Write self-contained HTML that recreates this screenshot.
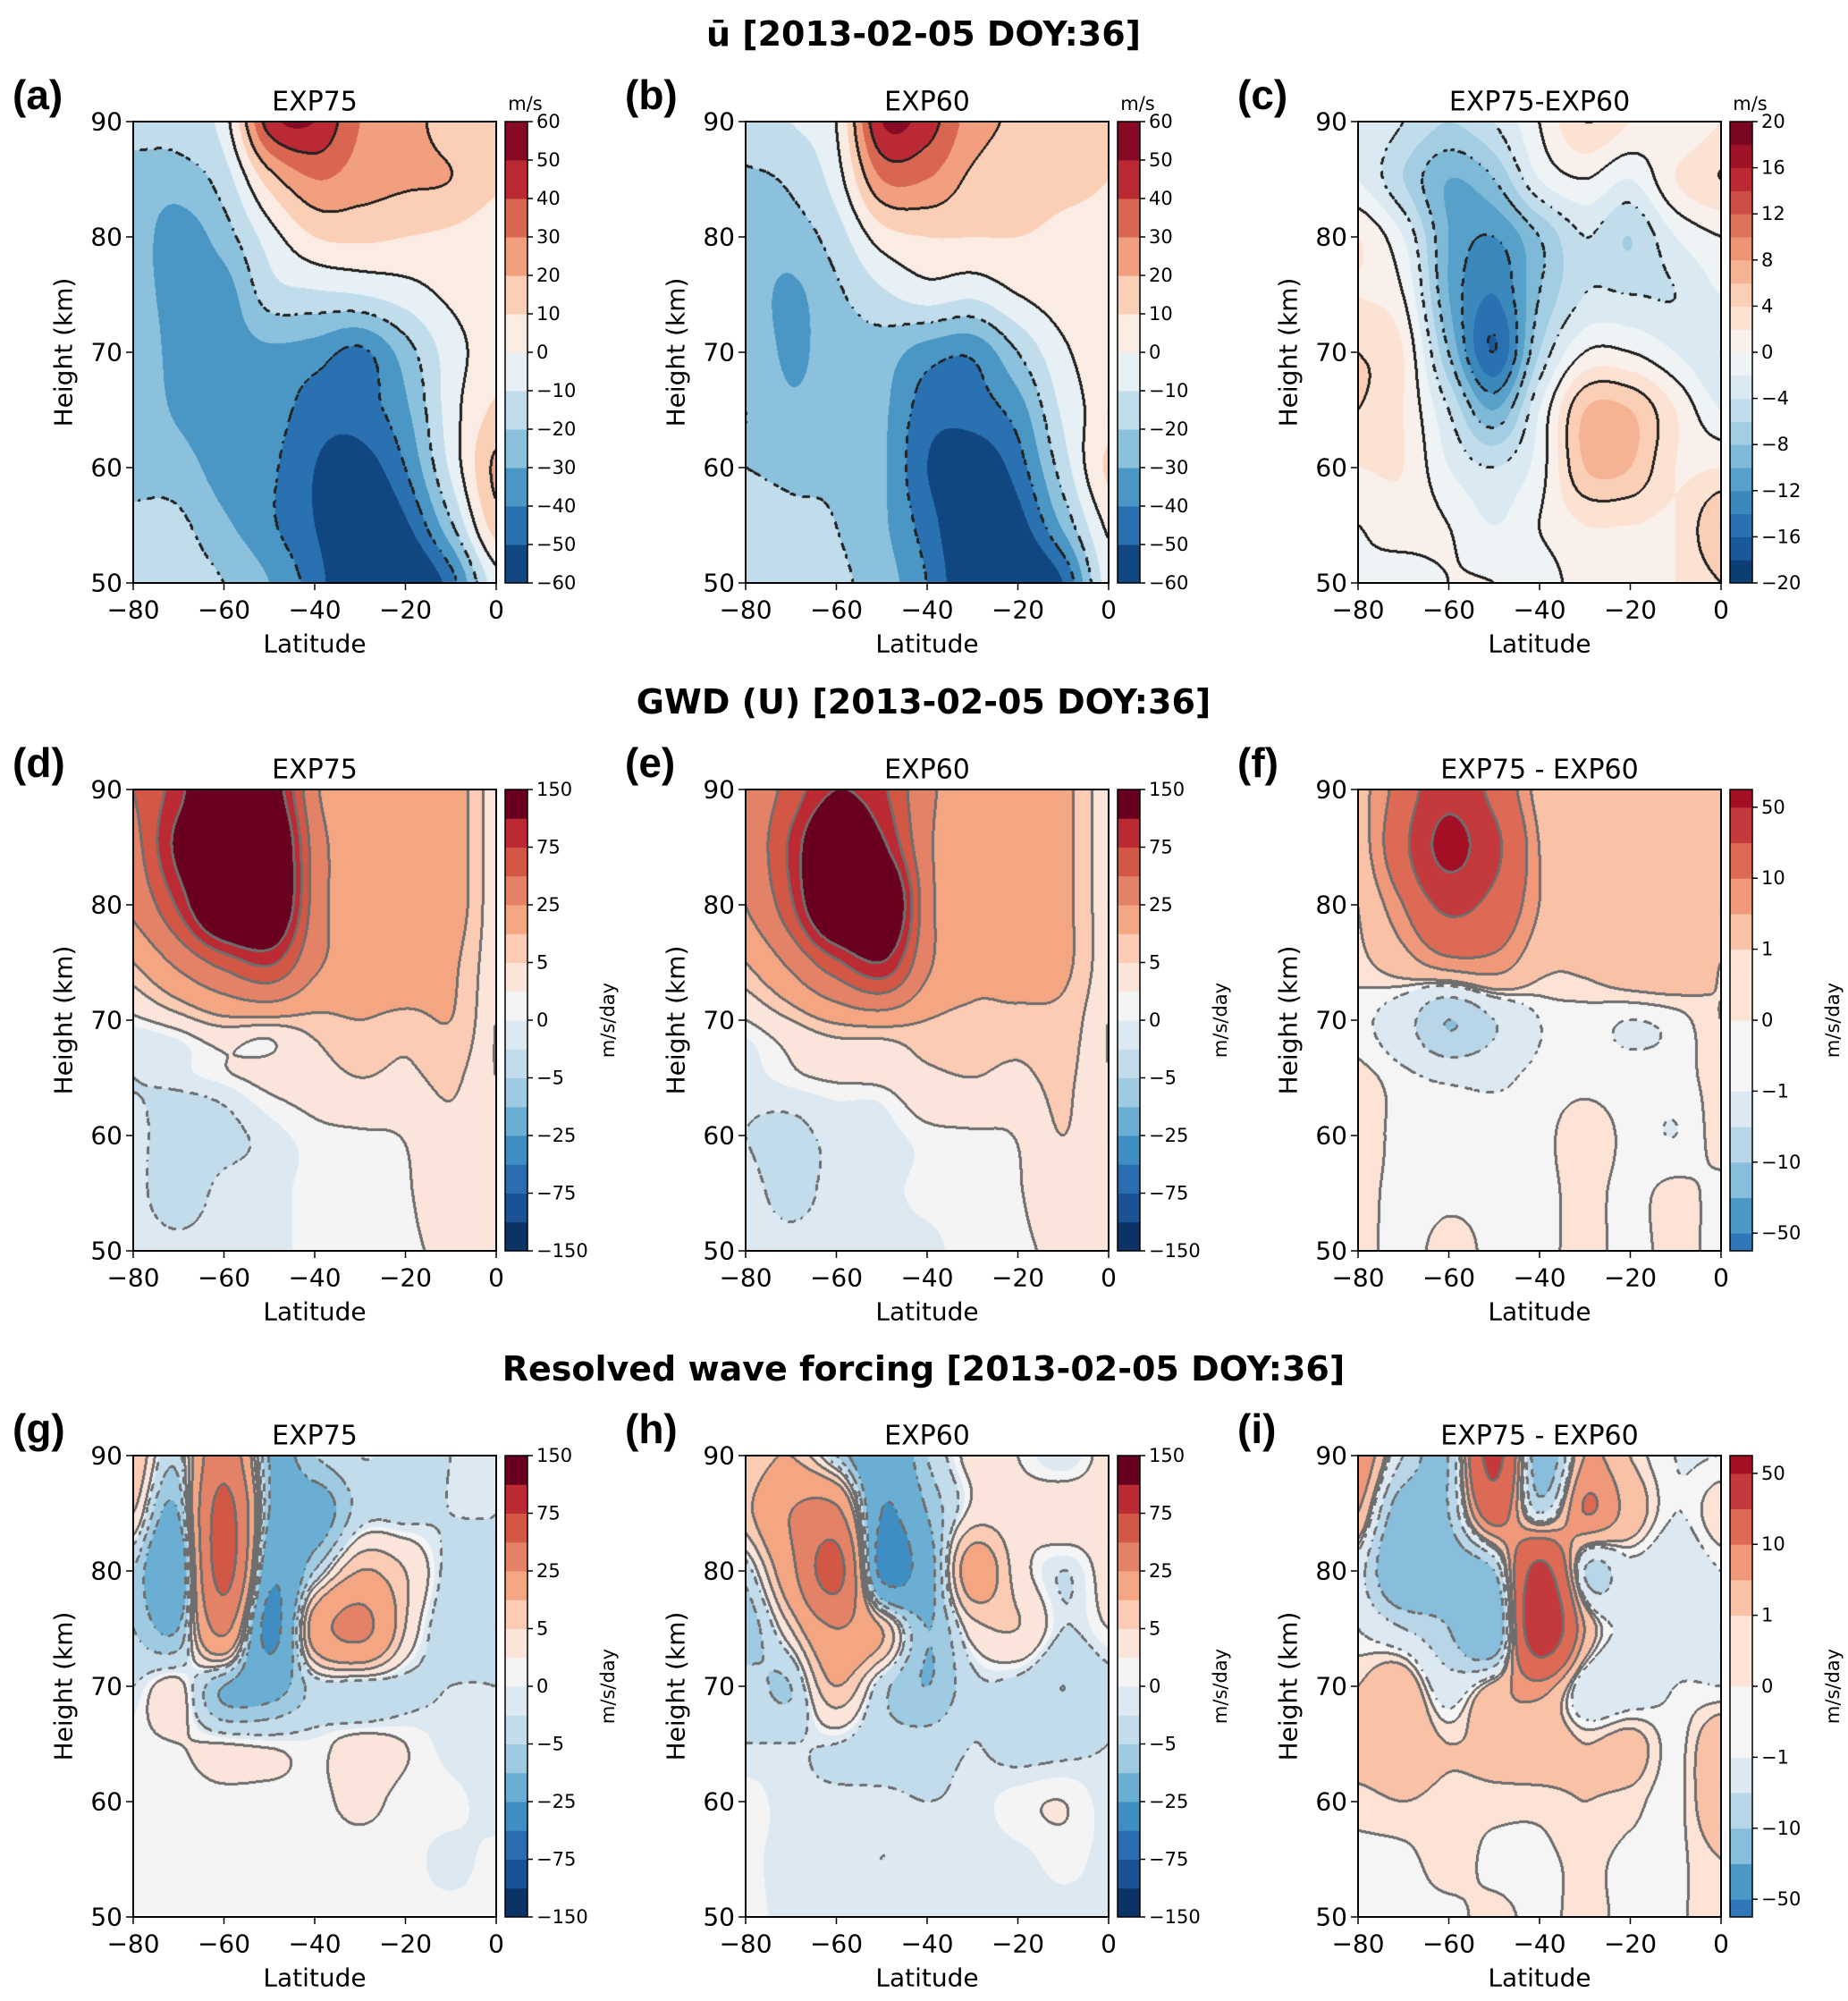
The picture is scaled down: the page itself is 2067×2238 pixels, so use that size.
<!DOCTYPE html>
<html><head><meta charset="utf-8">
<style>
html,body{margin:0;padding:0;background:#fff;}
#root{position:relative;width:2067px;height:2238px;overflow:hidden;background:#fff;}
canvas{position:absolute;}
svg{position:absolute;left:0;top:0;}
</style></head>
<body>
<div id="root">
<svg id="ov" width="2067" height="2238"></svg>
</div>
<script>
// ===== data =====
const latitudes=[-80,-70,-60,-50,-40,-30,-20,-10,0];
const heights=[90,85,80,75,70,65,60,55,50];
// rows top (90 km) to bottom (50 km), columns -80..0
const uA=[
[-15,-15,-5,45,50,30,25,15,15],
[-25,-25,-15,15,30,25,22,20,12],
[-25,-35,-25,-5,10,12,10,8,5],
[-25,-35,-35,-15,-12,-10,-5,2,5],
[-20,-35,-35,-32,-35,-42,-25,-5,5],
[-22,-32,-38,-35,-45,-45,-32,-5,12],
[-22,-25,-35,-38,-50,-55,-40,-8,22],
[-18,-18,-28,-38,-50,-62,-52,-22,15],
[-12,-15,-20,-30,-45,-65,-65,-45,-5]];
const uB=[
[-12,-10,0,50,45,25,18,12,10],
[-22,-18,-5,30,30,18,15,12,10],
[-25,-25,-15,5,10,10,10,8,8],
[-25,-32,-22,-12,-5,-8,0,5,5],
[-22,-32,-25,-25,-35,-38,-20,-2,5],
[-20,-28,-25,-28,-45,-45,-35,-8,5],
[-20,-22,-22,-28,-50,-58,-45,-15,12],
[-15,-18,-20,-28,-45,-62,-55,-28,2],
[-12,-15,-18,-25,-40,-62,-65,-50,-5]];
const uDiff=[
[-2,-4,-6,-4,0,4,2,0,2],
[-2,-6,-10,-8,-2,0,-2,2,4],
[2,-2,-10,-12,-8,-4,-6,-2,0],
[2,0,-10,-14,-8,-4,-4,-4,-2],
[4,2,-8,-16,-6,0,0,-2,-4],
[4,2,-4,-10,-2,6,6,2,-2],
[2,2,-2,-4,-1,6,6,2,2],
[0,1,0,-2,0,2,2,2,6],
[0,-1,0,0,-1,1,1,2,4]];
const gwdA=[
[50,90,160,130,30,20,20,15,2],
[40,110,170,170,40,20,20,15,2],
[30,80,170,170,40,20,20,15,2],
[10,30,60,80,30,20,20,12,2],
[0.5,3,8,8,8,10,8,10,1],
[-1,-0.5,0.5,2,3,5,4,6,1],
[-0.5,-2,-1.5,-0.5,0.5,0.7,1.2,4,2],
[-0.5,-2,-0.5,-0.3,0.3,0.5,0.7,3,2],
[-0.3,-0.5,-0.3,-0.3,0.3,0.5,0.6,1.5,1]];
const gwdB=[
[30,60,100,80,30,20,15,12,2],
[30,80,160,110,30,20,15,12,2],
[25,70,170,170,35,20,15,12,2],
[10,30,70,100,30,15,15,12,2],
[1,5,12,15,10,8,8,8,1],
[-0.5,0.5,1.5,2,4,5,4,6,1],
[-1,-1.5,-0.5,-0.5,0.5,0.7,1.2,5,1],
[-0.5,-1.5,-0.5,-0.3,0.3,0.5,0.8,3,1],
[-0.3,-0.5,-0.3,-0.3,-0.3,0.5,0.6,1.5,1]];
const gwdDiff=[
[3,15,40,20,3,3,2,3,1],
[2,20,60,30,5,3,3,3,2],
[1,10,30,20,5,2,3,2,2],
[0.5,3,8,8,2,1.5,3,3,1],
[-0.5,-3,-10,-5,-1,-0.5,-1,-0.5,1],
[0.3,-0.5,-1.5,-1.5,-0.5,-0.3,-0.5,-0.5,0.5],
[0.5,-0.3,-0.3,-0.3,-0.3,0.5,-0.3,-1,0.5],
[0.3,-0.3,-0.2,-0.2,-0.3,0.3,-0.3,0.3,-0.3],
[0.3,-0.3,0.3,-0.2,-0.3,0.3,-0.3,0.3,-0.3]];
const rwA=[
[10,-3,40,-10,-5,-1,-2,-1,-1],
[5,-10,60,-10,-15,-3,-2,-1,-1],
[-5,-20,60,-20,-5,10,5,-2,-1],
[-5,-10,30,-30,15,30,5,-3,-1],
[-1,2,-10,-15,-3,-3,-2,-1,-1],
[0.5,1,1,0.5,0.3,2,1,-0.5,-0.5],
[0.5,0.3,0.5,0.3,0.5,1.5,0.5,0.3,-0.5],
[0.3,0.3,0.3,0.5,0.3,0.3,0.3,-0.3,0.3],
[0.3,0.3,0.3,0.3,0.3,0.3,0.3,0.3,0.3]];
const rwB=[
[5,10,-5,-20,-5,2,1,-1,2],
[8,25,30,-25,-10,2,2,3,2],
[-3,20,60,-30,-15,15,3,-1,2],
[-8,5,25,10,-10,3,5,-1,1],
[-3,-5,10,-3,-10,-2,-2,-5,-2],
[-1,-1,-1,-3,-3,-1,-2,-2,-1],
[0.5,-0.5,-0.5,-0.5,-1,-0.5,0.5,1,-0.5],
[0.3,-0.5,-0.3,-1,-0.5,-0.5,-0.3,0.3,-0.3],
[0.3,-0.3,-0.3,-0.3,-0.3,-0.3,-0.3,-0.3,-0.3]];
const rwDiff=[
[10,-5,-10,30,-15,5,1,-1,-1],
[5,-15,-10,15,-5,10,3,-1,1],
[-3,-20,-15,-10,30,-5,-2,-3,-1],
[-1,-5,-10,-20,40,5,-2,-3,-2],
[1,3,-3,2,8,-3,-3,-1,-1],
[2,3,1,2,3,1,2,-0.5,3],
[0.5,1,0.5,0.5,0.5,1,0.5,-0.5,3],
[-0.3,-0.3,0.5,-0.3,-0.3,0.3,-0.3,-0.3,1],
[-0.3,-0.3,-0.3,0.3,-0.3,0.3,-0.3,-0.3,1]];

const uLevels=[-60,-50,-40,-30,-20,-10,0,10,20,30,40,50,60];
const uTicks=[-60,-50,-40,-30,-20,-10,0,10,20,30,40,50,60];
const dLevels=[-20,-18,-16,-14,-12,-10,-8,-6,-4,-2,0,2,4,6,8,10,12,14,16,18,20];
const dTicks=[-20,-16,-12,-8,-4,0,4,8,12,16,20];
const gLevels=[-150,-100,-75,-50,-25,-10,-5,-1,0,1,5,10,25,50,75,100,150];
const gTicks=[-150,-75,-25,-5,0,5,25,75,150];
const fLevels=[-1e9,-50,-25,-10,-5,-1,0,1,5,10,25,50,1e9];
const fTicks=[-50,-10,-1,0,1,10,50];
const xTicks=[-80,-60,-40,-20,0];
const yTicks=[50,60,70,80,90];

// ===== colormap =====
const anchors=['#053061','#2166ac','#4393c3','#92c5de','#d1e5f0','#f7f7f7','#fddbc7','#f4a582','#d6604d','#b2182b','#67001f'];
function hex(h){return [parseInt(h.slice(1,3),16),parseInt(h.slice(3,5),16),parseInt(h.slice(5,7),16)];}
const anc=anchors.map(hex);
function rdbu(t){t=Math.max(0,Math.min(1,t));const s=t*10,i=Math.min(9,Math.floor(s)),f=s-i;return anc[i].map((c,k)=>Math.round(c+(anc[i+1][k]-c)*f));}
const fColors=['#2f77b6','#4b98c7','#88bedc','#b8d6e8','#dce9f2','#f5f5f5','#fce3d6','#f9c1a6','#f0987a','#dd6a55','#c43a3c','#a50f26'].map(hex);
const gColors=['#0b3366','#1b5296','#2b6cb0','#3f8ec3','#6aaed4','#9ecbe2','#c2dcec','#dde9f2','#f4f4f4','#fbe5da','#fbcbb3','#f4a683','#e48268','#d35745','#bc2a33','#6a0020'].map(hex);

const kinds={
 u:{levels:uLevels,ticks:uTicks,lines:[-40,-20,0,20,40],lc:[34,34,34],colors:uLevels.slice(0,-1).map((_,i)=>rdbu((i+0.5)/12)),units:null,unit:'m/s'},
 d:{levels:dLevels,ticks:dTicks,lines:[-16,-12,-8,-4,0,4,8],lc:[34,34,34],colors:dLevels.slice(0,-1).map((_,i)=>rdbu((i+0.5)/20)),units:null,unit:'m/s'},
 g:{levels:gLevels,ticks:gTicks,lines:[-100,-75,-50,-25,-10,-5,-1,1,5,10,25,50,75,100],lc:[110,110,110],colors:gColors,units:null,unit:'m/s/day'},
 f:{levels:fLevels,ticks:fTicks,lines:[-50,-25,-10,-5,-1,0,1,5,10,25,50],lc:[110,110,110],colors:fColors,units:[0.5,1,1,1,1,2,2,1,1,1,1,0.5],unit:'m/s/day'}
};

const colX=[149,834,1519], rowY=[136,883,1628], W=406, H=516;
const panels=[
 {L:'(a)',t:'EXP75',g:uA,k:'u',c:0,r:0,n:'u-exp75'},
 {L:'(b)',t:'EXP60',g:uB,k:'u',c:1,r:0,n:'u-exp60'},
 {L:'(c)',t:'EXP75-EXP60',g:uDiff,k:'d',c:2,r:0,n:'u-diff'},
 {L:'(d)',t:'EXP75',g:gwdA,k:'g',c:0,r:1,n:'gwd-exp75'},
 {L:'(e)',t:'EXP60',g:gwdB,k:'g',c:1,r:1,n:'gwd-exp60'},
 {L:'(f)',t:'EXP75 - EXP60',g:gwdDiff,k:'f',c:2,r:1,n:'gwd-diff'},
 {L:'(g)',t:'EXP75',g:rwA,k:'g',c:0,r:2,n:'rwf-exp75'},
 {L:'(h)',t:'EXP60',g:rwB,k:'g',c:1,r:2,n:'rwf-exp60'},
 {L:'(i)',t:'EXP75 - EXP60',g:rwDiff,k:'f',c:2,r:2,n:'rwf-diff'}
];
const suptitles=[['ū [2013-02-05 DOY:36]',38],['GWD (U) [2013-02-05 DOY:36]',785],['Resolved wave forcing [2013-02-05 DOY:36]',1531]];

// ===== helpers =====
const root=document.getElementById('root'), ov=document.getElementById('ov');
const NS='http://www.w3.org/2000/svg';
function cr(a,b,c,d,t){return 0.5*((2*b)+(-a+c)*t+(2*a-5*b+4*c-d)*t*t+(-a+3*b-3*c+d)*t*t*t);}
function sample(g,u,v){
 const i=Math.floor(u),j=Math.floor(v),fu=u-i,fv=v-j;
 const cl=(x,m)=>Math.max(0,Math.min(m,x));
 const rows=[];
 for(let dj=-1;dj<=2;dj++){const r=g[cl(j+dj,8)];
  rows.push(cr(r[cl(i-1,8)],r[cl(i,8)],r[cl(i+1,8)],r[cl(i+2,8)],fu));}
 return cr(rows[0],rows[1],rows[2],rows[3],fv);
}
function binOf(lv,v){let b=0;for(let i=1;i<lv.length-1;i++){if(v>=lv[i])b=i;}return b;}
function txt(s,x,y,size,opts){
 const e=document.createElementNS(NS,'text');
 e.setAttribute('x',x);e.setAttribute('y',y);e.setAttribute('font-size',size);
 e.setAttribute('font-family',(opts&&opts.ff)||'"DejaVu Sans", "Liberation Sans", sans-serif');
 if(opts&&opts.anchor)e.setAttribute('text-anchor',opts.anchor);
 if(opts&&opts.weight)e.setAttribute('font-weight',opts.weight);
 if(opts&&opts.rot)e.setAttribute('transform','rotate('+opts.rot+' '+x+' '+y+')');
 e.setAttribute('dominant-baseline',(opts&&opts.base)||'central');
 e.textContent=s;ov.appendChild(e);return e;
}
function ln(x1,y1,x2,y2,w,col){const e=document.createElementNS(NS,'line');
 e.setAttribute('x1',x1);e.setAttribute('y1',y1);e.setAttribute('x2',x2);e.setAttribute('y2',y2);
 e.setAttribute('stroke',col||'#000');e.setAttribute('stroke-width',w||1.5);ov.appendChild(e);return e;}
const fmt=v=>(v<0?'\u2212'+(-v):''+v);

suptitles.forEach(s=>{
 const e=txt(s[0],1033,s[1],38,{anchor:'middle',weight:'bold'});
 
 
});

panels.forEach(p=>{
 const K=kinds[p.k], X0=colX[p.c], Y0=rowY[p.r];
 const xs=lat=>X0+(lat+80)/80*W;
 const ys=h=>Y0+(90-h)/40*H;
 const cv=document.createElement('canvas');
 cv.width=W;cv.height=H;cv.style.left=X0+'px';cv.style.top=Y0+'px';
 
 
 root.insertBefore(cv,ov);
 const ctx=cv.getContext('2d'),img=ctx.createImageData(W,H),D=img.data;
 const val=new Float32Array(W*H);
 for(let y=0;y<H;y++){const h=90-(y+0.5)/H*40;const v=(90-h)/5;
  for(let x=0;x<W;x++){const lat=-80+(x+0.5)/W*80;const u=(lat+80)/10;val[y*W+x]=sample(p.g,u,v);}}
 for(let k=0;k<W*H;k++){const c=K.colors[binOf(K.levels,val[k])];D[4*k]=c[0];D[4*k+1]=c[1];D[4*k+2]=c[2];D[4*k+3]=255;}
 const paint=k=>{if(k<0||k>=W*H)return;D[4*k]=K.lc[0];D[4*k+1]=K.lc[1];D[4*k+2]=K.lc[2];};
 const mark=(k,L,x,y)=>{if(L<0&&(((x>>3)+(y>>3))&1))return;paint(k);paint(k-1);paint(k-W);};
 const cross=(a,b)=>{for(const L of K.lines){if((a<L&&b>=L)||(b<L&&a>=L))return L;}return null;};
 for(let y=0;y<H;y++)for(let x=0;x<W;x++){const k=y*W+x;
  if(x<W-1){const L=cross(val[k],val[k+1]);if(L!==null){mark(k,L,x,y);mark(k+1,L,x,y);}}
  if(y<H-1){const L=cross(val[k],val[k+W]);if(L!==null){mark(k,L,x,y);mark(k+W,L,x,y);}}}
 ctx.putImageData(img,0,0);
 const fr=document.createElementNS(NS,'rect');
 fr.setAttribute('x',X0);fr.setAttribute('y',Y0);fr.setAttribute('width',W);fr.setAttribute('height',H);
 fr.setAttribute('fill','none');fr.setAttribute('stroke','#000');fr.setAttribute('stroke-width','2');
 
 
 ov.appendChild(fr);
 xTicks.forEach(t=>{const x=xs(t);ln(x,Y0+H,x,Y0+H+8,1.5);
  const e=txt(fmt(t),x,Y0+H+30,28,{anchor:'middle'});
  
  });
 yTicks.forEach(t=>{const y=ys(t);ln(X0-8,y,X0,y,1.5);
  const e=txt(fmt(t),X0-12,y,28,{anchor:'end'});
  
  });
 let e=txt('Latitude',X0+W/2,Y0+H+68,28,{anchor:'middle'});
 
 
 e=txt('Height (km)',X0-78,Y0+H/2,28,{anchor:'middle',rot:-90});
 
 
 e=txt(p.t,X0+W/2,Y0-22,30,{anchor:'middle'});
 
 
 e=txt(p.L,X0-135,Y0-30,46,{weight:'bold',ff:'"Liberation Sans", sans-serif'});
 
 
 const cx=X0+W+10,cw=25;
 const nb=K.colors.length,units=K.units||K.colors.map(()=>1),tot=units.reduce((a,b)=>a+b,0);
 const bnd=[0];units.forEach(u=>bnd.push(bnd[bnd.length-1]+u));
 const cy=u=>Y0+H-u/tot*H;
 for(let i=0;i<nb;i++){const r=document.createElementNS(NS,'rect');const c=K.colors[i];
  r.setAttribute('x',cx);r.setAttribute('y',cy(bnd[i+1]));r.setAttribute('width',cw);r.setAttribute('height',cy(bnd[i])-cy(bnd[i+1])+0.5);
  r.setAttribute('fill','rgb('+c.join(',')+')');
  
  
  ov.appendChild(r);}
 const cb=document.createElementNS(NS,'rect');
 cb.setAttribute('x',cx);cb.setAttribute('y',Y0);cb.setAttribute('width',cw);cb.setAttribute('height',H);
 cb.setAttribute('fill','none');cb.setAttribute('stroke','#000');cb.setAttribute('stroke-width','1.5');
 
 
 ov.appendChild(cb);
 K.ticks.forEach(t=>{const bi=K.levels.indexOf(t);const y=cy(bnd[bi]);ln(cx+cw,y,cx+cw+6,y,1.5);
  const e2=txt(fmt(t),cx+cw+10,y,21,{});
  
  });
 if(K.unit==='m/s'){e=txt('m/s',cx+cw/2+10,Y0-20,21,{anchor:'middle'});}
 else{e=txt('m/s/day',X0+W+125,Y0+H/2,21,{anchor:'middle',rot:-90});}
 
 
});
</script>
</body></html>
